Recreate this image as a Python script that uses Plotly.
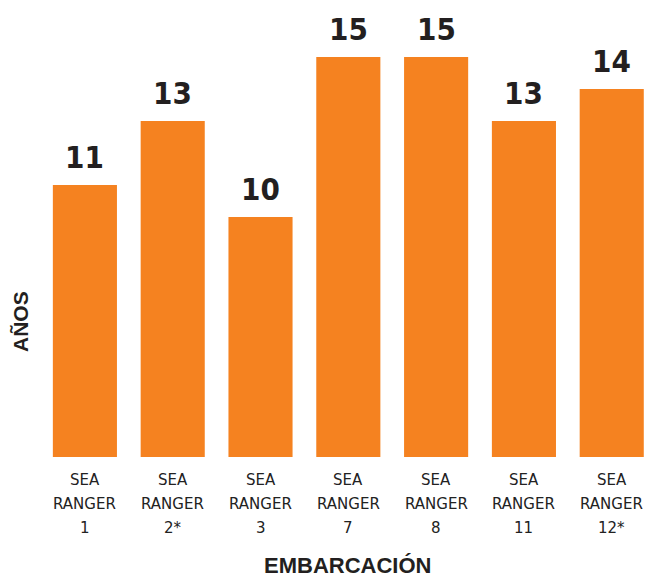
import plotly.graph_objects as go

categories = ["SEA RANGER 1", "SEA RANGER 2*", "SEA RANGER 3", "SEA RANGER 7",
              "SEA RANGER 8", "SEA RANGER 11", "SEA RANGER 12*"]
tick_lines = [["SEA", "RANGER", "1"], ["SEA", "RANGER", "2*"], ["SEA", "RANGER", "3"],
              ["SEA", "RANGER", "7"], ["SEA", "RANGER", "8"], ["SEA", "RANGER", "11"],
              ["SEA", "RANGER", "12*"]]
years = [11, 13, 10, 15, 15, 13, 14]

ORANGE = "#F58220"
DARK = "#231F20"
NUM_FONT = "DejaVu Sans Condensed, sans-serif"

fig = go.Figure()
fig.add_trace(go.Bar(
    x=categories, y=years,
    marker=dict(color=ORANGE, line=dict(width=0)),
    cliponaxis=False, width=0.73, hoverinfo="x+y",
))

annotations = []
for cat, v in zip(categories, years):
    annotations.append(dict(
        x=cat, xref="x", y=v, yref="y", yshift=8, yanchor="bottom",
        text="<b>%d</b>" % v, showarrow=False,
        font=dict(family=NUM_FONT, size=31, color=DARK),
    ))
for cat, lines in zip(categories, tick_lines):
    for i, ln in enumerate(lines):
        annotations.append(dict(
            x=cat, xref="x", y=0, yref="paper", yshift=-23 - 24 * i,
            text=ln, showarrow=False, yanchor="middle",
            font=dict(family="DejaVu Sans, sans-serif", size=15, color="#222222"),
        ))
annotations.append(dict(
    x=0.5, xref="paper", y=0, yref="paper", yshift=-122,
    text="<b>EMBARCACIÓN</b>", showarrow=False, yanchor="bottom", borderpad=0,
    font=dict(family="Liberation Sans, Arial, sans-serif", size=22, color=DARK),
))
annotations.append(dict(
    x=0, xref="paper", xshift=-21, y=0, yref="paper", yshift=135,
    text="<b>AÑOS</b>", showarrow=False, textangle=-90, xanchor="center", yanchor="middle",
    font=dict(family="Liberation Sans, Arial, sans-serif", size=21, color=DARK),
))

fig.update_layout(
    width=653, height=580,
    margin=dict(l=41, r=0, t=9, b=123),
    paper_bgcolor="white", plot_bgcolor="white",
    showlegend=False,
    annotations=annotations,
    xaxis=dict(range=[-0.5, 6.47], showticklabels=False, showgrid=False,
               zeroline=False, showline=False, ticks=""),
    yaxis=dict(range=[2.5, 16.5], showticklabels=False, showgrid=False,
               zeroline=False, showline=False, ticks=""),
)
fig.write_html("out.html")
